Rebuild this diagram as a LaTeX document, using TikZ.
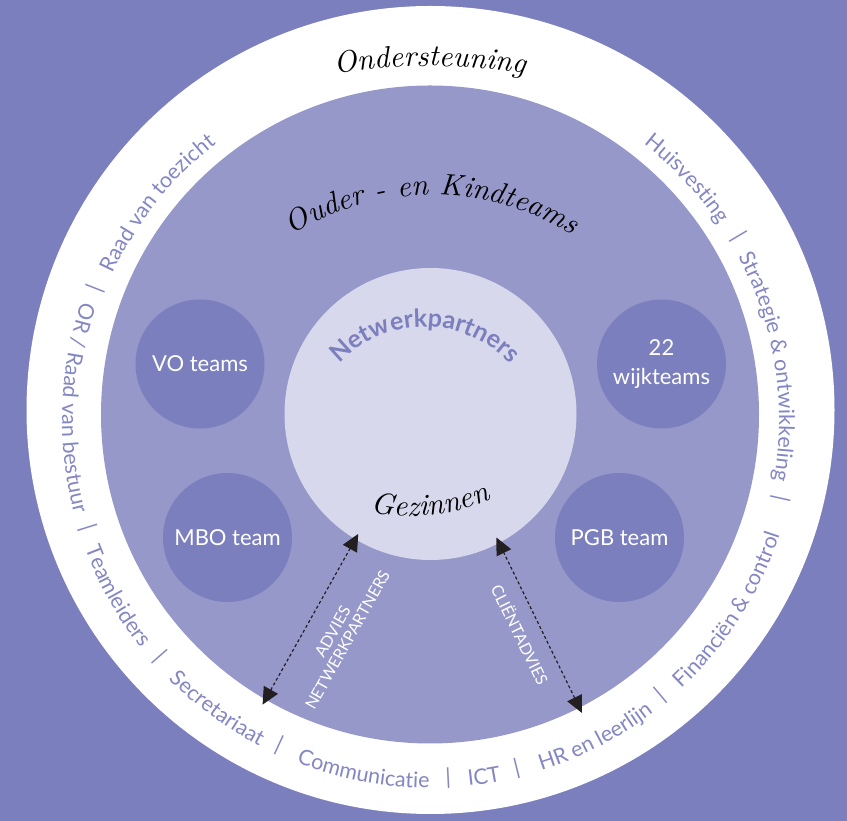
\documentclass[tikz,border=0pt]{standalone}
\usepackage{fontspec}
\setmainfont{Lato}
\newfontfamily\handfont{lmroman10-italic.otf}
\usetikzlibrary{decorations.text,arrows.meta}
\definecolor{paars}{HTML}{7B7FBD}
\definecolor{ringpaars}{HTML}{8487C4}
\definecolor{middenpaars}{HTML}{9698C9}
\definecolor{lichtpaars}{HTML}{D8D8EC}
\definecolor{pijlkleur}{HTML}{231F20}
\newcommand{\ringfont}{\fontsize{21.5}{26}\selectfont\color{ringpaars}}
\newcommand{\handschrift}{\handfont\fontsize{30}{36}\selectfont}
% #1 midden van de boog, #2 halve boog (negatief: tegen de klok in), #3 straal, #4 tekst
\newcommand{\ringtekst}[4]{\path[decorate,decoration={text along path,text align=center,text={|\ringfont|#4}}]
	([shift={({#1+(#2)}:#3)}]M) arc[start angle={#1+(#2)},end angle={#1-(#2)},radius=#3];}

\begin{document}
\begin{tikzpicture}[x=1pt,y=1pt,
	schijf/.style={circle,inner sep=0pt,outer sep=0pt,draw=none},
	team/.style={schijf,fill=paars,minimum size=129pt,text=white,align=center,font=\fontsize{22}{29}\selectfont},
	pijl/.style={draw=pijlkleur,line width=1.2pt,dash pattern=on 3pt off 2.5pt,{Triangle[length=17pt,width=16pt]}-{Triangle[length=17pt,width=16pt]},shorten <=-6pt,shorten >=-6pt},
	pijltekst/.style={sloped,anchor=north,text=white,align=center,font=\fontsize{16}{17}\selectfont},
	scheiding/.style={text=ringpaars,inner sep=0pt,font=\fontsize{22}{26}\selectfont}]
	\useasboundingbox (0,0) rectangle (847,821);
	\fill[paars] (0,0) rectangle (847,821);
	\node[schijf,fill=white,minimum size=808pt] (steun) at (430.5,411) {};
	\node[schijf,fill=middenpaars,minimum size=658pt] (ouder) at (430,406.5) {};
	\node[schijf,fill=lichtpaars,minimum size=292pt] (kern) at (430.5,407) {};
	\node[team] (vo) at (200,457) {VO teams};
	\node[team] (wijk) at (661.5,457) {22\\wijkteams};
	\node[team] (mbo) at (227.5,283.5) {MBO team};
	\node[team] (pgb) at (619.5,283.5) {PGB team};
	\draw[pijl] (ouder.240) -- node[pijltekst,inner sep=19pt] (advies) {ADVIES\\NETWERKPARTNERS} (kern.239);
	\draw[pijl] (ouder.297) -- node[pijltekst,inner sep=13pt] (client) {CLIËNTADVIES} (kern.298);
	\coordinate (M) at (430,401);
	\coordinate (O1) at (430,155);
	\coordinate (O2) at (432,362);
	\coordinate (N) at (425,377);
	\coordinate (G) at (410,510);
	\path[decorate,decoration={text along path,text align=center,text={|\handschrift|Ondersteuning}}]
		([shift={(102:600pt)}]O1) arc[start angle=102,end angle=78,radius=600pt];
	\path[decorate,decoration={text along path,text align=center,text={|\handschrift|Ouder - en Kindteams}}]
		([shift={(130:264pt)}]O2) arc[start angle=130,end angle=50,radius=264pt];
	\path[decorate,decoration={text along path,text align=center,text={|\fontsize{25}{30}\selectfont\bfseries\color{paars}|Netwerkpartners}}]
		([shift={(170:117pt)}]N) arc[start angle=170,end angle=10,radius=117pt];
	\path[decorate,decoration={text along path,text align=center,text={|\handschrift|Gezinnen}}]
		([shift={(236:205pt)}]G) arc[start angle=236,end angle=316,radius=205pt];
	\ringtekst{141.5}{25}{349pt}{Raad van toezicht}
	\ringtekst{43.2}{20}{349pt}{Huisvesting}
	\ringtekst{9}{30}{349pt}{Strategie {\&} ontwikkeling}
	\ringtekst{178}{-25}{368pt}{OR / Raad van bestuur}
	\ringtekst{209.4}{-15}{368pt}{Teamleiders}
	\ringtekst{233.6}{-14}{368pt}{Secretariaat}
	\ringtekst{259.3}{-15}{368pt}{Communicatie}
	\ringtekst{278.6}{-5}{368pt}{ICT}
	\ringtekst{297.5}{-15}{368pt}{HR en leerlijn}
	\ringtekst{327.5}{-22}{368pt}{Financiën {\&} control}
	\foreach \h [count=\i] in {158.6,197.4,221.2,245.1,272.9,284,310,347.4,30.7}
		\node[scheiding,rotate=\h-90] (streep\i) at ([shift={(\h:359pt)}]M) {|};
\end{tikzpicture}
\end{document}
